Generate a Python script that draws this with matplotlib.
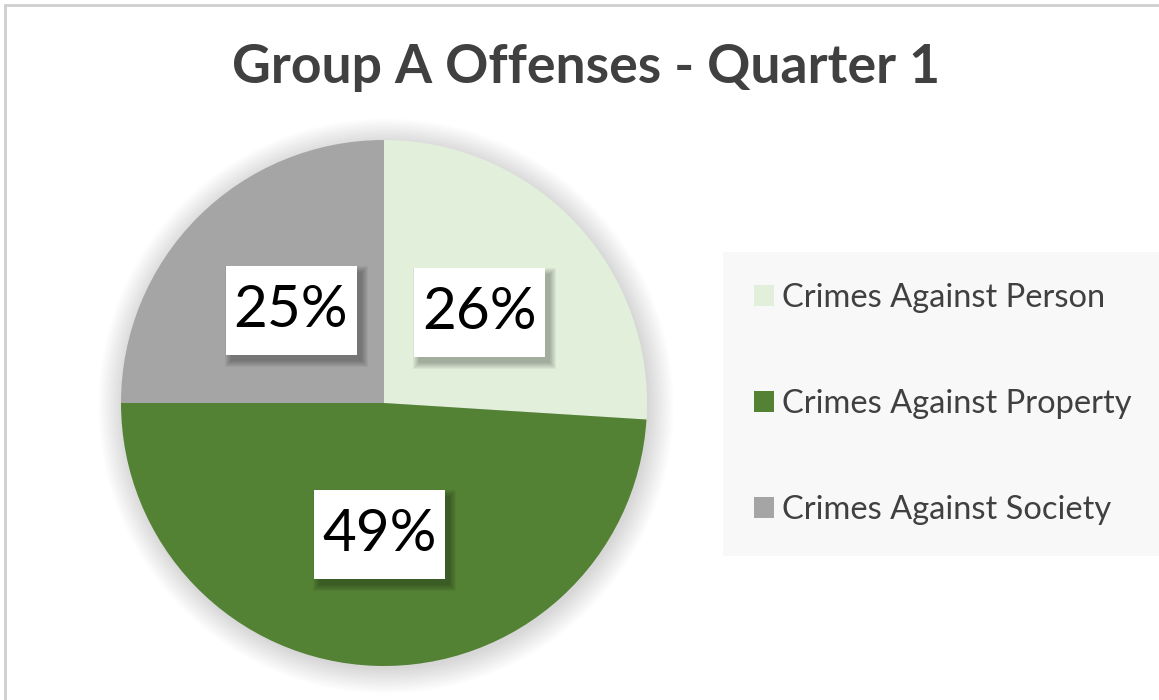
import matplotlib.pyplot as plt
from matplotlib.patches import Circle, Rectangle
from matplotlib.lines import Line2D

categories = ["Crimes Against Person", "Crimes Against Property", "Crimes Against Society"]
shares = [26, 49, 25]
colors = ["#E2EFDA", "#548235", "#A5A5A5"]
title = "Group A Offenses - Quarter 1"

W, H = 1159, 700
text_color = "#404040"

fig = plt.figure(figsize=(W / 100, H / 100), dpi=100)
ax = fig.add_axes([0, 0, 1, 1])
ax.set_xlim(0, W)
ax.set_ylim(0, H)
ax.axis("off")

# chart frame (only the top and left edges show)
ax.add_line(Line2D([5, 5], [0, H - 5], color="#CFCFCF", lw=2))
ax.add_line(Line2D([5, W], [H - 5, H - 5], color="#CFCFCF", lw=2))

ax.text(586, H - 68, title, ha="center", va="center", fontsize=38.5,
        fontweight="bold", color=text_color, family="Lato")

cx, cy, r = 384, 297, 263

# soft glow under the pie
for i in range(20):
    ax.add_patch(Circle((cx + 2, cy - 3), r + i * 1.3, color="black",
                        alpha=0.006, lw=0, zorder=1))

wedges, _, autotexts = ax.pie(
    shares, colors=colors, startangle=90, counterclock=False,
    center=(cx, cy), radius=r, autopct="%d%%", pctdistance=0.5,
    textprops=dict(fontsize=42, color="black", family="Lato"),
    wedgeprops=dict(linewidth=0, zorder=2),
)
ax.set_xlim(0, W)
ax.set_ylim(0, H)
ax.set_aspect("auto")

# white label boxes with a blurred drop shadow
bw, bh = 131, 89
for t in autotexts:
    x, y = t.get_position()
    for k in range(7):
        ax.add_patch(Rectangle((x - bw / 2 + 5 - k, y - bh / 2 - 6 - k),
                               bw + 2 * k, bh + 2 * k, facecolor="black",
                               edgecolor="none", alpha=0.045, zorder=3))
    ax.add_patch(Rectangle((x - bw / 2, y - bh / 2), bw, bh, facecolor="white",
                           edgecolor="none", zorder=3.5))
    t.set_zorder(4)
    t.set_va("center")
    t.set_ha("center")

leg = ax.legend(
    wedges, categories, loc="center left", bbox_to_anchor=(723 / W, 296 / H),
    frameon=True, facecolor="#F8F8F8", edgecolor="none", framealpha=1,
    fancybox=False, borderpad=0.95, labelspacing=2.34, handlelength=0.61,
    handleheight=0.61, handletextpad=0.25, borderaxespad=0,
    prop=dict(family="Lato", size=23.5),
)
for txt in leg.get_texts():
    txt.set_color(text_color)
leg.get_frame().set_linewidth(0)

fig.savefig("out.png", dpi=100)
